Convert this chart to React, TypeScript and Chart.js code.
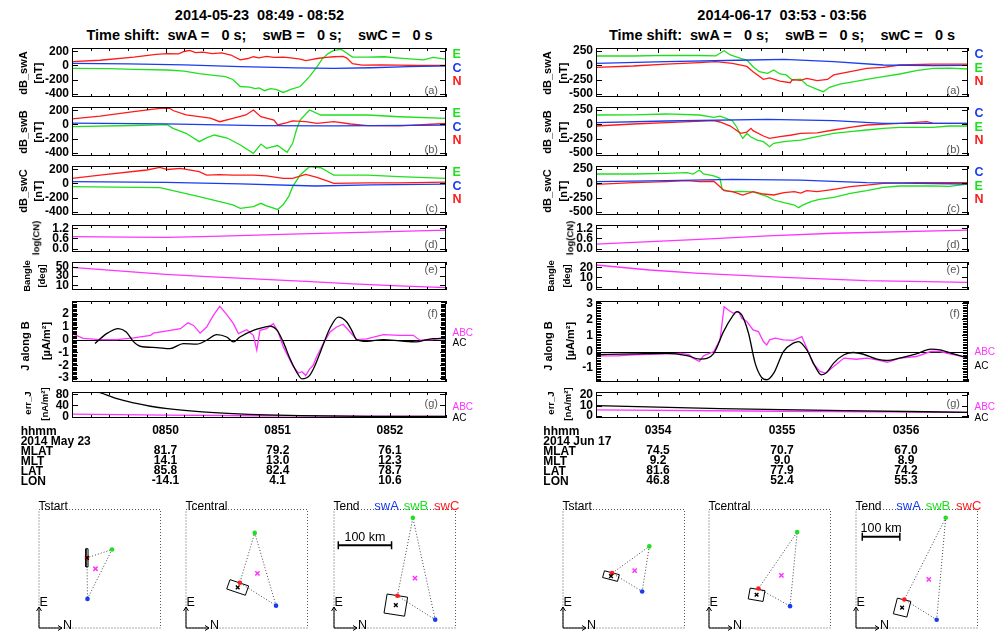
import React, { useEffect, useRef } from 'react';
import { Chart, registerables } from 'chart.js';

Chart.register(...registerables);

const FONT = '"Liberation Sans", Arial, Helvetica, sans-serif';
Chart.defaults.font.family = FONT;

type Pt = [number, number];

const RED = '#ff1a1a';
const GREEN = '#1fdf1f';
const BLUE = '#1a3cf0';
const MAGENTA = '#ff33ff';
const BLACK = '#000000';

/* ================= Event 1 : 2014-05-23 (x = seconds after 08:49:00) ================= */
const L_TIME_RANGE = [10, 210];
const L_MINUTES = [60, 120, 180];
const L_HHMM = ['0850', '0851', '0852'];
const L_MLAT = ['81.7', '79.2', '76.1'];
const L_MLT = ['14.1', '13.0', '12.3'];
const L_LAT = ['85.8', '82.4', '78.7'];
const L_LON = ['-14.1', '4.1', '10.6'];

const L_A_E: Pt[] = [[10,-40],[30,-45],[43,-55],[61,-64],[70,-80],[78,-115],[86,-140],[92,-160],[96,-200],[100,-300],[105,-310],[108,-330],[110,-320],[113,-360],[116,-330],[119,-340],[123,-385],[127,-340],[132,-300],[137,-160],[141,-20],[144,100],[147,170],[150,215],[154,230],[157,175],[160,120],[168,120],[177,125],[185,105],[198,80],[203,115],[210,90]];
const L_A_C: Pt[] = [[10,30],[40,22],[70,10],[100,-15],[130,-35],[150,-40],[170,-32],[190,-15],[210,-5]];
const L_A_N: Pt[] = [[10,54],[25,75],[43,120],[55,160],[61,170],[67,165],[70,200],[73,215],[76,185],[80,190],[85,170],[90,180],[95,150],[100,80],[104,100],[107,125],[110,110],[114,130],[118,115],[123,120],[127,110],[132,90],[135,70],[138,85],[141,100],[146,115],[150,125],[155,130],[157,105],[160,25],[165,5],[175,10],[185,5],[195,0],[210,0]];

const L_B_E: Pt[] = [[10,-31],[43,-14],[61,-2],[64,-55],[71,-126],[78,-245],[82,-190],[86,-150],[93,-193],[100,-293],[107,-412],[111,-279],[114,-340],[120,-300],[125,-397],[128,-269],[130,-79],[132,64],[137,207],[143,136],[150,136],[168,136],[185,111],[210,88]];
const L_B_C: Pt[] = [[10,20],[60,10],[110,-15],[150,-20],[210,-10]];
const L_B_N: Pt[] = [[10,79],[25,121],[43,183],[57,231],[62,236],[64,200],[71,136],[78,111],[84,90],[89,40],[96,88],[103,136],[107,207],[111,111],[118,64],[120,-7],[125,26],[128,52],[135,40],[141,17],[150,40],[159,7],[168,-17],[185,-21],[200,0],[210,17]];

const L_C_E: Pt[] = [[10,-45],[57,-60],[78,-189],[89,-260],[96,-307],[100,-355],[107,-330],[111,-283],[114,-320],[120,-370],[123,-300],[126,-180],[128,-45],[132,121],[137,240],[143,225],[148,150],[150,121],[168,121],[185,98],[210,74]];
const L_C_C: Pt[] = [[10,26],[60,15],[100,-5],[140,-36],[170,-20],[210,-10]];
const L_C_N: Pt[] = [[10,74],[25,121],[50,193],[57,231],[61,200],[68,217],[78,169],[82,121],[89,126],[96,121],[107,121],[114,110],[123,74],[128,74],[135,131],[141,88],[146,40],[150,2],[168,10],[185,10],[210,21]];

const L_D_LOGCN: Pt[] = [[10,0.71],[40,0.68],[61,0.67],[90,0.74],[132,0.87],[170,0.98],[210,1.1]];
const L_E_BANGLE: Pt[] = [[10,48.5],[35,41],[60,33.5],[85,28],[110,23.5],[135,18.5],[160,13],[185,9],[210,5]];

const L_F_ABC: Pt[] = [[10,0.46],[16,0.1],[25,0],[34,0],[43,0.13],[52,0.33],[53.5,0.5],[61,0.67],[68,0.85],[72,1.3],[75,1.1],[78.5,0.5],[82,0.98],[85.6,1.88],[89,2.58],[92.7,1.96],[96.3,1.24],[99,0.46],[103.4,0.77],[107,0.33],[108.8,-0.82],[110.5,0.72],[114,0.85],[117.7,1.24],[120.3,0.59],[123,-0.57],[126.6,-1.6],[128,-2.0],[131,-2.6],[133,-2.5],[135,-2.8],[137,-2.3],[139,-2.0],[140.8,-1.34],[144.4,-0.31],[148,0.59],[151.5,0.98],[155,1.19],[158.7,0.59],[162.2,0],[167.6,0.05],[176.5,0.39],[185.4,0.33],[192.5,0.33],[196,-0.05],[203,0],[210,0.2]];
const L_F_AC: Pt[] = [[22.3,-0.31],[28.5,0.46],[34.8,0.85],[39,0.59],[43,-0.18],[46.4,-0.52],[55.3,-0.62],[62.4,-0.7],[69.5,-0.31],[76.7,-0.36],[82,-0.05],[87.4,0.39],[92.7,0.2],[96.3,-0.18],[99.8,0.2],[107,0.72],[112,0.93],[116,1.05],[119.5,0.75],[123,-0.2],[126.6,-1.5],[130,-2.5],[133,-3.05],[137,-2.8],[140,-2.0],[143,-0.9],[148,0.9],[152.4,1.75],[157,1.35],[160,0.6],[162.2,0],[167.6,-0.13],[176.5,0],[185.4,-0.1],[194.3,-0.18],[203,0.08],[210,0.08]];

const L_G_ABC: Pt[] = [[10,9],[60,5],[110,3],[160,1.5],[210,1]];
const L_G_AC: Pt[] = [[22,92],[25,86],[34,64],[43,49],[52,37],[61,28.6],[78,18],[96,10.7],[114,6],[132,3.5],[168,1],[210,0.5]];

/* footprint geometry, km (x = N, y = E): Tstart, Tcentral, Tend */
const L_KM_RANGE = 230;
const L_SW_A: Pt[] = [[92,57],[170,44],[191,17]];
const L_SW_B: Pt[] = [[138,152],[130,184],[149,213]];
const L_SW_C: Pt[] = [[91,136],[102,88],[120,63]];
const L_MEAN: Pt[] = [[107,115],[135,106],[153,97]];
const L_FIT: Pt[] = [[91,136],[98,79],[117,45]];
const L_BOX: number[][] = [[4,35,0],[37,19,-19],[39,37,-9]];
const L_SCALEBAR: Pt[] = [[9,160],[109,160]];

/* ================= Event 2 : 2014-06-17 (x = seconds after 03:53:00) ================= */
const R_TIME_RANGE = [30, 210];
const R_MINUTES = [60, 120, 180];
const R_HHMM = ['0354', '0355', '0356'];
const R_MLAT = ['74.5', '70.7', '67.0'];
const R_MLT = ['9.2', '9.0', '8.9'];
const R_LAT = ['81.6', '77.9', '74.2'];
const R_LON = ['46.8', '52.4', '55.3'];

const R_A_E: Pt[] = [[30,161],[48,161],[64,173],[80,170],[88,165],[90,208],[92,253],[95,180],[100,121],[103,92],[106,-24],[109,-111],[113,-139],[116,-82],[119,-151],[122,-168],[125,-255],[129,-240],[132,-342],[137,-417],[140,-458],[143,-382],[148,-325],[155,-285],[161,-243],[169,-198],[177,-151],[185,-94],[193,-52],[201,-50],[210,-64]];
const R_A_C: Pt[] = [[30,34],[64,62],[105,92],[121,104],[145,62],[169,5],[193,-7],[210,0]];
const R_A_N: Pt[] = [[30,-35],[48,-12],[64,22],[80,45],[88,62],[96,34],[103,-20],[106,-111],[111,-243],[114,-220],[119,-273],[124,-302],[125,-250],[129,-260],[132,-226],[137,-267],[142,-245],[145,-168],[153,-111],[161,-52],[169,-35],[177,5],[193,22],[210,22]];

const R_B_E: Pt[] = [[30,161],[48,165],[64,179],[80,161],[87,121],[90,140],[93,104],[96,62],[98,-42],[100,-186],[101,-243],[103,-160],[105,-220],[108,-273],[111,-302],[114,-389],[116,-330],[121,-302],[129,-273],[137,-215],[145,-157],[153,-128],[161,-99],[169,-70],[177,-52],[193,-52],[201,-30],[210,-30]];
const R_B_C: Pt[] = [[30,28],[64,57],[113,87],[145,62],[169,17],[210,17]];
const R_B_N: Pt[] = [[30,-30],[48,5],[64,28],[87,62],[90,40],[95,-30],[100,-157],[103,-135],[105,-70],[106,-110],[111,-203],[114,-243],[119,-215],[124,-190],[129,-157],[137,-150],[145,-99],[153,-52],[161,-12],[177,17],[190,45],[193,20],[210,17]];

const R_C_E: Pt[] = [[30,161],[48,161],[64,172],[74,184],[77,161],[80,230],[82,161],[87,127],[90,86],[91,-104],[95,-145],[100,-140],[106,-150],[113,-232],[116,-290],[121,-337],[126,-377],[128,-423],[130,-380],[134,-319],[138,-278],[145,-243],[153,-174],[161,-128],[169,-70],[177,-47],[193,-47],[201,-55],[210,-12]];
const R_C_C: Pt[] = [[30,28],[64,45],[96,68],[129,56],[161,10],[210,-12]];
const R_C_N: Pt[] = [[30,-18],[48,10],[64,28],[74,45],[80,28],[87,35],[90,-59],[92,-128],[96,-145],[101,-203],[106,-145],[111,-186],[116,-203],[121,-163],[126,-145],[129,-170],[132,-128],[137,-145],[145,-104],[153,-59],[161,-30],[169,0],[185,10],[210,10]];

const R_D_LOGCN: Pt[] = [[30,0.27],[80,0.55],[113,0.75],[145,0.91],[210,1.1]];
const R_E_BANGLE: Pt[] = [[30,22.3],[56,17.3],[80,14],[121,10],[161,6.6],[210,5]];

const R_F_ABC: Pt[] = [[30,-0.27],[40,-0.27],[48,-0.2],[56,-0.18],[64,-0.15],[71,-0.11],[75,-0.2],[77,-0.41],[80,-0.62],[82,-0.27],[87,0],[90,0.73],[92,2.79],[94,2.59],[96.5,2.38],[99,2.49],[100.5,2.07],[103,1.87],[106,1.35],[108.6,1.24],[111,0.62],[112.6,0.41],[114,0.73],[116.7,0.83],[120.7,0.73],[125.5,0.69],[129.6,0.93],[132,0.21],[135,-0.72],[138.4,-1.24],[141,-1.35],[145,-0.93],[150,-0.41],[156,-0.48],[161,-0.41],[166,-0.52],[171,-0.68],[177,-0.41],[185,-0.31],[192,0],[196.5,0],[201,-0.15],[206,-0.27],[210,-0.41]];
const R_F_AC: Pt[] = [[30,-0.2],[48,-0.15],[64,-0.11],[74,-0.25],[80.4,-0.48],[87,-0.11],[91.7,1.24],[96.5,2.28],[98,2.49],[100.5,2.28],[103.8,1.14],[107,-0.72],[110,-1.59],[112.6,-1.76],[116,-1.35],[120.7,0],[125.5,0.52],[128,0.62],[132,0.1],[136,-0.93],[139,-1.45],[141.7,-1.3],[145,-0.72],[150,-0.2],[154.6,-0.06],[159.4,-0.17],[166,-0.48],[170.7,-0.56],[177,-0.41],[185,-0.15],[192,0.15],[196.5,0.1],[203,-0.15],[210,-0.41]];

const R_G_ABC: Pt[] = [[30,5.8],[120,4.5],[210,3.5]];
const R_G_AC: Pt[] = [[30,9.9],[90,7],[150,5],[210,3.5]];

const R_KM_RANGE = 326;
const R_SW_A: Pt[] = [[212,101],[217,61],[216,24]];
const R_SW_B: Pt[] = [[231,224],[236,263],[240,302]];
const R_SW_C: Pt[] = [[132,151],[133,109],[130,79]];
const R_MEAN: Pt[] = [[192,158],[194,145],[195,134]];
const R_FIT: Pt[] = [[129,143],[128,92],[124,57]];
const R_BOX: number[][] = [[41,19,-15],[40,30,-10],[37,44,-14]];
const R_SCALEBAR: Pt[] = [[18,250],[118,250]];

const DIAG_LABELS = ['Tstart', 'Tcentral', 'Tend'];

/* ================= layout ================= */
const ROWS: Record<string, number[]> = {
  a: [48, 97], b: [107, 156], c: [166, 215], d: [225, 252], e: [262, 290], f: [301, 382], g: [392, 418],
};
const PAD_L = 60, PAD_T = 12, PAD_R = 12, AXIS_H = 70;

interface Series { data: Pt[]; color: string; smooth?: boolean }
interface Side { text: string; color: string; y: number; bold: boolean }
interface Panel {
  key: string; range: number[]; ticks: number[]; labels: string[]; series: Series[];
  titles: [string, number, number, number][]; side: Side[]; minorY?: number; zero?: boolean;
}
interface Column {
  x0: number; x1: number; range: number[]; minutes: number[]; hhmm: string[];
  mlat: string[]; mlt: string[]; lat: string[]; lon: string[]; date: string;
  title: string; shift: string; center: number; tableX: number; panels: Panel[];
  km: number; swA: Pt[]; swB: Pt[]; swC: Pt[]; mean: Pt[]; fit: Pt[]; box: number[][]; bar: Pt[];
  boxX: number[];
}

const ecn = (order: string[], top: number): Side[] => {
  const col: Record<string, string> = { E: GREEN, C: BLUE, N: RED };
  return order.map((t, i) => ({ text: t, color: col[t], y: top + 6 + i * 13.7, bold: true }));
};
const abc = (y1: number, y2: number): Side[] => [
  { text: 'ABC', color: MAGENTA, y: y1, bold: false },
  { text: 'AC', color: BLACK, y: y2, bold: false },
];

const LEFT: Column = {
  x0: 72, x1: 446, range: L_TIME_RANGE, minutes: L_MINUTES, hhmm: L_HHMM,
  mlat: L_MLAT, mlt: L_MLT, lat: L_LAT, lon: L_LON, date: '2014 May 23',
  title: '2014-05-23  08:49 - 08:52', shift: 'Time shift:  swA =   0 s;    swB =   0 s;    swC =   0 s',
  center: 259.5, tableX: 20.7,
  km: L_KM_RANGE, swA: L_SW_A, swB: L_SW_B, swC: L_SW_C, mean: L_MEAN, fit: L_FIT, box: L_BOX, bar: L_SCALEBAR,
  boxX: [37, 184, 332],
  panels: [
    { key: 'a', range: [-450, 250], ticks: [200, 0, -200, -400], labels: ['200', '0', '-200', '-400'],
      series: [{ data: L_A_C, color: BLUE }, { data: L_A_N, color: RED }, { data: L_A_E, color: GREEN }],
      titles: [['dB_swA', -49, 73, 11], ['[nT]', -33.7, 73, 11]], side: ecn(['E', 'C', 'N'], 48) },
    { key: 'b', range: [-450, 250], ticks: [200, 0, -200, -400], labels: ['200', '0', '-200', '-400'],
      series: [{ data: L_B_C, color: BLUE }, { data: L_B_N, color: RED }, { data: L_B_E, color: GREEN }],
      titles: [['dB_swB', -49, 132, 11], ['[nT]', -33.7, 132, 11]], side: ecn(['E', 'C', 'N'], 107) },
    { key: 'c', range: [-450, 250], ticks: [200, 0, -200, -400], labels: ['200', '0', '-200', '-400'],
      series: [{ data: L_C_C, color: BLUE }, { data: L_C_N, color: RED }, { data: L_C_E, color: GREEN }],
      titles: [['dB_swC', -49, 191, 11], ['[nT]', -33.7, 191, 11]], side: ecn(['E', 'C', 'N'], 166) },
    { key: 'd', range: [-0.2, 1.4], ticks: [1.2, 0.6, 0], labels: ['1.2', '0.6', '0.0'],
      series: [{ data: L_D_LOGCN, color: MAGENTA }],
      titles: [['log(CN)', -36.5, 238, 9.5]], side: [] },
    { key: 'e', range: [0, 60], ticks: [50, 30, 10], labels: ['50', '30', '10'],
      series: [{ data: L_E_BANGLE, color: MAGENTA }],
      titles: [['Bangle', -45.3, 276, 9.5], ['[deg]', -30.3, 276, 9.5]], side: [] },
    { key: 'f', range: [-3.3, 3.0], ticks: [2, 1, 0, -1, -2, -3], labels: ['2', '1', '0', '-1', '-2', '-3'],
      series: [{ data: L_F_AC, color: BLACK, smooth: true }, { data: L_F_ABC, color: MAGENTA }],
      titles: [['J along B', -46.7, 345.8, 11], ['[µA/m²]', -26.2, 341, 11]], side: abc(333.3, 343), minorY: 0.1, zero: true },
    { key: 'g', range: [-5, 88], ticks: [80, 40, 0], labels: ['80', '40', '0'],
      series: [{ data: L_G_AC, color: BLACK, smooth: true }, { data: L_G_ABC, color: MAGENTA }],
      titles: [['err_J', -44.5, 403, 9.5], ['[nA/m²]', -27.3, 404, 9.5]], side: abc(407.3, 417.5) },
  ],
};

const RIGHT: Column = {
  x0: 596, x1: 968, range: R_TIME_RANGE, minutes: R_MINUTES, hhmm: R_HHMM,
  mlat: R_MLAT, mlt: R_MLT, lat: R_LAT, lon: R_LON, date: '2014 Jun 17',
  title: '2014-06-17  03:53 - 03:56', shift: 'Time shift:  swA =   0 s;    swB =   0 s;    swC =   0 s',
  center: 782, tableX: 543.3,
  km: R_KM_RANGE, swA: R_SW_A, swB: R_SW_B, swC: R_SW_C, mean: R_MEAN, fit: R_FIT, box: R_BOX, bar: R_SCALEBAR,
  boxX: [561, 707, 854],
  panels: [
    { key: 'a', range: [-550, 300], ticks: [250, 0, -250, -500], labels: ['250', '0', '-250', '-500'],
      series: [{ data: R_A_C, color: BLUE }, { data: R_A_N, color: RED }, { data: R_A_E, color: GREEN }],
      titles: [['dB_swA', -49, 73, 11], ['[nT]', -33.5, 73, 11]], side: ecn(['C', 'E', 'N'], 48) },
    { key: 'b', range: [-550, 300], ticks: [250, 0, -250, -500], labels: ['250', '0', '-250', '-500'],
      series: [{ data: R_B_C, color: BLUE }, { data: R_B_N, color: RED }, { data: R_B_E, color: GREEN }],
      titles: [['dB_swB', -49, 132, 11], ['[nT]', -33.5, 132, 11]], side: ecn(['C', 'E', 'N'], 107) },
    { key: 'c', range: [-550, 300], ticks: [250, 0, -250, -500], labels: ['250', '0', '-250', '-500'],
      series: [{ data: R_C_C, color: BLUE }, { data: R_C_N, color: RED }, { data: R_C_E, color: GREEN }],
      titles: [['dB_swC', -49, 191, 11], ['[nT]', -33.5, 191, 11]], side: ecn(['C', 'E', 'N'], 166) },
    { key: 'd', range: [-0.2, 1.4], ticks: [1.2, 0.6, 0], labels: ['1.2', '0.6', '0.0'],
      series: [{ data: R_D_LOGCN, color: MAGENTA }],
      titles: [['log(CN)', -26.5, 238, 9.5]], side: [] },
    { key: 'e', range: [-2.7, 25.3], ticks: [20, 10, 0], labels: ['20', '10', '0'],
      series: [{ data: R_E_BANGLE, color: MAGENTA }],
      titles: [['Bangle', -45, 276, 9.5], ['[deg]', -29.3, 276, 9.5]], side: [] },
    { key: 'f', range: [-1.9, 3.15], ticks: [3, 2, 1, 0, -1], labels: ['3', '2', '1', '0', '-1'],
      series: [{ data: R_F_AC, color: BLACK, smooth: true }, { data: R_F_ABC, color: MAGENTA }],
      titles: [['J along B', -48, 345.8, 11], ['[µA/m²]', -26, 341, 11]], side: abc(352.3, 366), minorY: 0.1, zero: true },
    { key: 'g', range: [-2, 23], ticks: [20, 10, 0], labels: ['20', '10', '0'],
      series: [{ data: R_G_AC, color: BLACK, smooth: true }, { data: R_G_ABC, color: MAGENTA }],
      titles: [['err_J', -45, 403, 9.5], ['[nA/m²]', -28, 404, 9.5]], side: abc(407.3, 418) },
  ],
};

const COLUMNS = [LEFT, RIGHT];

/* ================= chart builders ================= */
function panelChart(col: Column, p: Panel, withAxis: boolean): any {
  const frame = {
    id: 'frame',
    beforeDatasetsDraw(chart: any) {
      if (!p.zero) return;
      const { ctx, chartArea: a } = chart;
      const y = Math.round(chart.scales.y.getPixelForValue(0)) + 0.5;
      ctx.save();
      ctx.strokeStyle = '#000';
      ctx.lineWidth = 1;
      ctx.beginPath();
      ctx.moveTo(a.left, y);
      ctx.lineTo(a.right, y);
      ctx.stroke();
      ctx.restore();
    },
    afterDraw(chart: any) {
      const { ctx, chartArea: a } = chart;
      const xs = chart.scales.x, ys = chart.scales.y;
      ctx.save();
      ctx.strokeStyle = '#000';
      ctx.lineWidth = 1;
      ctx.beginPath();
      for (let t = Math.ceil(col.range[0] / 10) * 10; t <= col.range[1]; t += 10) {
        const px = Math.round(xs.getPixelForValue(t)) + 0.5;
        const len = t % 60 === 0 ? 5 : 3;
        ctx.moveTo(px, a.bottom); ctx.lineTo(px, a.bottom - len);
        ctx.moveTo(px, a.top); ctx.lineTo(px, a.top + len);
      }
      const yt = (v: number, len: number) => {
        const py = Math.round(ys.getPixelForValue(v)) + 0.5;
        ctx.moveTo(a.left, py); ctx.lineTo(a.left + len, py);
        ctx.moveTo(a.right, py); ctx.lineTo(a.right - len, py);
      };
      p.ticks.forEach((v) => yt(v, 6));
      if (p.minorY) {
        const n0 = Math.ceil(p.range[0] / p.minorY), n1 = Math.floor(p.range[1] / p.minorY);
        for (let n = n0; n <= n1; n++) yt(n * p.minorY, 5);
      }
      ctx.stroke();
      ctx.strokeRect(a.left + 0.5, a.top + 0.5, a.right - a.left - 1, a.bottom - a.top - 1);
      ctx.restore();
    },
  };
  return {
    type: 'line',
    data: {
      datasets: p.series.map((s) => ({
        data: s.data.map(([x, y]) => ({ x, y })),
        borderColor: s.color,
        borderWidth: 1.3,
        pointRadius: 0,
        fill: false,
        tension: 0,
        cubicInterpolationMode: s.smooth ? 'monotone' : 'default',
      })),
    },
    options: {
      animation: false,
      responsive: false,
      devicePixelRatio: 1,
      events: [],
      layout: { padding: { left: 0, top: PAD_T, right: PAD_R, bottom: withAxis ? 2 : PAD_T } },
      plugins: { legend: { display: false }, tooltip: { enabled: false } },
      scales: {
        x: {
          type: 'linear', min: col.range[0], max: col.range[1], display: withAxis,
          grid: { display: false, drawTicks: false }, border: { display: false },
          afterBuildTicks: (s: any) => { s.ticks = col.minutes.map((v) => ({ value: v })); },
          afterFit: (s: any) => { if (withAxis) s.height = AXIS_H; },
          ticks: {
            autoSkip: false, maxRotation: 0, minRotation: 0, padding: 8, color: '#000',
            font: { size: 12, weight: 'bold', lineHeight: '9.9px' },
            callback: (v: number) => {
              const i = col.minutes.indexOf(v);
              return [col.hhmm[i], '', col.mlat[i], col.mlt[i], col.lat[i], col.lon[i]];
            },
          },
        },
        y: {
          type: 'linear', min: p.range[0], max: p.range[1],
          grid: { display: false, drawTicks: false }, border: { display: false },
          afterBuildTicks: (s: any) => { s.ticks = p.ticks.map((v) => ({ value: v })); },
          afterFit: (s: any) => { s.width = PAD_L; },
          ticks: {
            autoSkip: false, padding: 3, color: '#000',
            font: { size: 12, weight: 'bold' },
            callback: (v: number) => p.labels[p.ticks.indexOf(v)],
          },
        },
      },
    },
    plugins: [frame],
  };
}

function rectCorners(c: Pt, b: number[]) {
  const [w, h, ang] = b;
  const th = (ang * Math.PI) / 180;
  const pts = [[-w / 2, -h / 2], [w / 2, -h / 2], [w / 2, h / 2], [-w / 2, h / 2], [-w / 2, -h / 2]];
  return pts.map(([dx, dy]) => ({
    x: c[0] + dx * Math.cos(th) - dy * Math.sin(th),
    y: c[1] + dx * Math.sin(th) + dy * Math.cos(th),
  }));
}

function diagramChart(col: Column, i: number): any {
  const P = (p: Pt) => ({ x: p[0], y: p[1] });
  const A = col.swA[i], B = col.swB[i], C = col.swC[i];
  const isEnd = i === 2;
  const datasets: any[] = [
    { data: [P(col.fit[i])], showLine: false, pointStyle: 'crossRot', pointRadius: 2.6,
      pointBorderColor: '#000', pointBorderWidth: 1.4, pointBackgroundColor: '#000' },
    { data: [P(col.mean[i])], showLine: false, pointStyle: 'crossRot', pointRadius: 3,
      pointBorderColor: MAGENTA, pointBorderWidth: 1.5, pointBackgroundColor: MAGENTA },
    { data: [P(A), P(B), P(C)], showLine: false, pointStyle: 'circle', pointRadius: 2.3,
      pointBackgroundColor: [BLUE, GREEN, RED], pointBorderWidth: 0, pointBorderColor: [BLUE, GREEN, RED] },
    { data: rectCorners(col.fit[i], col.box[i]), showLine: true, borderColor: '#000', borderWidth: 1,
      pointRadius: 0, tension: 0 },
    { data: [P(A), P(B), P(C), P(A)], showLine: true, borderColor: '#444', borderWidth: 1,
      borderDash: [1, 2], pointRadius: 0, tension: 0 },
  ];
  if (isEnd) {
    datasets.push({ data: col.bar.map(P), showLine: true, borderColor: '#000', borderWidth: 2,
      pointStyle: 'line', pointRotation: 90, pointRadius: 4, pointBorderColor: '#000', pointBorderWidth: 1.5 });
  }
  const deco = {
    id: 'deco',
    beforeDatasetsDraw(chart: any) {
      const { ctx, chartArea: a } = chart;
      ctx.save();
      ctx.setLineDash([1, 2]);
      ctx.strokeStyle = '#555';
      ctx.lineWidth = 1;
      ctx.strokeRect(a.left + 0.5, a.top + 0.5, a.right - a.left - 1, a.bottom - a.top - 1);
      ctx.restore();
    },
    afterDraw(chart: any) {
      const { ctx, chartArea: a } = chart;
      ctx.save();
      ctx.fillStyle = '#000';
      ctx.strokeStyle = '#000';
      ctx.lineWidth = 1;
      ctx.textBaseline = 'alphabetic';
      ctx.textAlign = 'left';
      ctx.font = `12px ${FONT}`;
      ctx.fillText(DIAG_LABELS[i], a.left, a.top + 1);
      if (isEnd) {
        ctx.font = `13px ${FONT}`;
        const names = ['swA', 'swB', 'swC'], cols = [BLUE, GREEN, RED], offs = [81.7, 52.3, 22];
        names.forEach((n, k) => { ctx.fillStyle = cols[k]; ctx.fillText(n, a.right - offs[k], a.top + 1); });
        const xs = chart.scales.x, ys = chart.scales.y;
        const cx = (xs.getPixelForValue(col.bar[0][0]) + xs.getPixelForValue(col.bar[1][0])) / 2;
        const cy = ys.getPixelForValue(col.bar[0][1]) - 8;
        ctx.fillStyle = '#000';
        ctx.font = `12.5px ${FONT}`;
        ctx.textAlign = 'center';
        ctx.textBaseline = 'middle';
        ctx.fillText('100 km', cx, cy);
      }
      // E / N direction arrows
      const x0 = a.left + 0.5, y0 = a.bottom - 0.5;
      ctx.beginPath();
      ctx.moveTo(x0, y0); ctx.lineTo(x0, y0 - 21);
      ctx.moveTo(x0 - 2.5, y0 - 17); ctx.lineTo(x0, y0 - 21); ctx.lineTo(x0 + 2.5, y0 - 17);
      ctx.moveTo(x0, y0); ctx.lineTo(x0 + 23, y0);
      ctx.moveTo(x0 + 19, y0 - 2.5); ctx.lineTo(x0 + 23, y0); ctx.lineTo(x0 + 19, y0 + 2.5);
      ctx.stroke();
      ctx.fillStyle = '#000';
      ctx.font = `12.5px ${FONT}`;
      ctx.textAlign = 'left';
      ctx.textBaseline = 'alphabetic';
      ctx.fillText('E', a.left + 1, a.bottom - 23);
      ctx.fillText('N', a.left + 24.5, a.bottom);
      ctx.restore();
    },
  };
  return {
    type: 'scatter',
    data: { datasets },
    options: {
      animation: false, responsive: false, devicePixelRatio: 1, events: [],
      layout: { padding: { left: 4, top: 20, right: 12, bottom: 1 } },
      plugins: { legend: { display: false }, tooltip: { enabled: false } },
      scales: {
        x: { type: 'linear', min: 0, max: col.km, display: false },
        y: { type: 'linear', min: 0, max: col.km, display: false },
      },
    },
    plugins: [deco],
  };
}

/* ================= React pieces ================= */
function ChartBox({ x, y, w, h, make }: { x: number; y: number; w: number; h: number; make: () => any }) {
  const ref = useRef<HTMLCanvasElement>(null);
  useEffect(() => {
    const chart = new Chart(ref.current as HTMLCanvasElement, make());
    return () => chart.destroy();
  }, []);
  return <canvas ref={ref} width={w} height={h} style={{ position: 'absolute', left: x, top: y, width: w, height: h }} />;
}

function T({ x, y, text, size = 12, bold = false, color = '#000', align = 'left', rot = false }:
  { x: number; y: number; text: string; size?: number; bold?: boolean; color?: string; align?: string; rot?: boolean }) {
  const tx = align === 'center' ? '-50%' : align === 'right' ? '-100%' : '0';
  return (
    <div style={{
      position: 'absolute', left: x, top: y, fontSize: size, fontWeight: bold ? 700 : 400, color,
      lineHeight: 1, whiteSpace: 'pre', fontFamily: FONT,
      transform: rot ? 'translate(-50%,-50%) rotate(-90deg)' : `translate(${tx},-50%)`,
    }}>{text}</div>
  );
}

const LETTER_Y = (key: string) => {
  const [t, b] = ROWS[key];
  if (key === 'e') return t + 7;
  if (key === 'f') return t + 11.5;
  if (key === 'g') return t + 11;
  if (key === 'd') return b - 8;
  return b - 7;
};

function ColumnView({ col }: { col: Column }) {
  const w = col.x1 - col.x0 + PAD_L + PAD_R;
  return (
    <>
      <T x={col.center} y={14.5} text={col.title} size={14.5} bold align="center" />
      <T x={col.center} y={35} text={col.shift} size={14.5} bold align="center" />
      {col.panels.map((p, i) => {
        const [top, bottom] = ROWS[p.key];
        const last = i === col.panels.length - 1;
        const h = bottom - top + PAD_T + (last ? AXIS_H + 2 : PAD_T);
        return (
          <React.Fragment key={p.key}>
            <ChartBox x={col.x0 - PAD_L} y={top - PAD_T} w={w} h={h} make={() => panelChart(col, p, last)} />
            {p.titles.map(([t, dx, cy, sz]) => (
              <T key={t} x={col.x0 + dx} y={cy} text={t} size={sz} bold rot />
            ))}
            {p.side.map((s) => (
              <T key={s.text} x={col.x1 + 6.5} y={s.y} text={s.text} size={s.bold ? 12.5 : 10} bold={s.bold} color={s.color} />
            ))}
            <T x={col.x1 - 8} y={LETTER_Y(p.key)} text={`(${p.key})`} size={11} color="#555" align="right" />
          </React.Fragment>
        );
      })}
      <div style={{
        position: 'absolute', left: col.tableX, top: 427, fontSize: 12, fontWeight: 700,
        lineHeight: '9.9px', whiteSpace: 'pre', fontFamily: FONT, color: '#000',
      }}>{['hhmm', col.date, 'MLAT', 'MLT', 'LAT', 'LON'].join('\n')}</div>
      {col.boxX.map((bx, i) => (
        <ChartBox key={i} x={bx - 4} y={489} w={140} h={145} make={() => diagramChart(col, i)} />
      ))}
    </>
  );
}

export default function App() {
  return (
    <div style={{ position: 'absolute', left: 0, top: 0, width: 1005, height: 634, background: '#fff', overflow: 'hidden', fontFamily: FONT }}>
      {COLUMNS.map((c, i) => <ColumnView key={i} col={c} />)}
    </div>
  );
}
